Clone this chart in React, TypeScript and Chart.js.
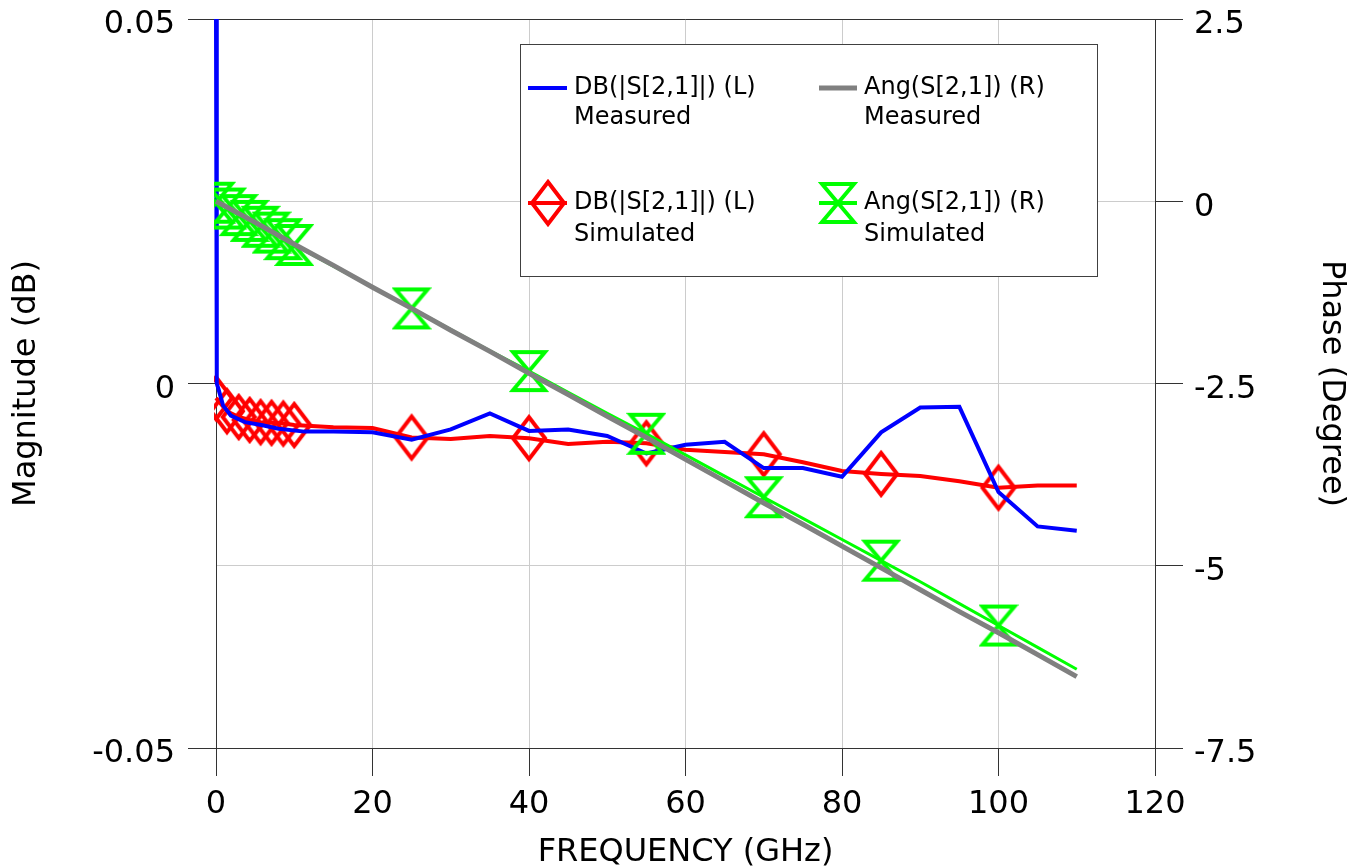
import React, { useEffect, useRef } from 'react';
import { Chart, registerables } from 'chart.js';

Chart.register(...registerables);

const FONT = '"DejaVu Sans", Verdana, sans-serif';

// Measured magnitude (blue, left axis)
const MEAS_FREQ = [0, 0.1, 0.3, 0.9, 1.9, 3.7, 5.8, 8, 11.3, 15, 20, 25, 30, 35, 40, 45, 50, 55, 60, 65, 70, 75, 80, 85, 90, 95, 100, 105, 110];
const MEAS_DB = [0.05, 0.0, -0.0007, -0.003, -0.0044, -0.0053, -0.0057, -0.0062, -0.0066, -0.0066, -0.0067, -0.0077, -0.0063, -0.0041, -0.0065, -0.0063, -0.0072, -0.0096, -0.0084, -0.008, -0.0116, -0.0116, -0.0128, -0.0067, -0.0033, -0.0032, -0.0149, -0.0196, -0.0202];

// Measured phase (gray, right axis)
const MEAS_PHASE_FREQ = [0, 5, 10, 15, 20, 25, 30, 35, 40, 45, 50, 55, 60, 65, 70, 75, 80, 85, 90, 95, 100, 105, 110];
const MEAS_PHASE = [0.0, -0.29, -0.59, -0.88, -1.18, -1.47, -1.77, -2.06, -2.36, -2.65, -2.95, -3.24, -3.54, -3.84, -4.14, -4.43, -4.73, -5.03, -5.33, -5.63, -5.92, -6.22, -6.52];

// Simulated (red magnitude on left axis, green phase on right axis)
const SIM_FREQ = [0, 1.4, 2.9, 4.3, 5.7, 7.1, 8.6, 10, 15, 20, 25, 30, 35, 40, 45, 50, 55, 60, 65, 70, 75, 80, 85, 90, 95, 100, 105, 110];
const SIM_DB = [-0.002, -0.0038, -0.0046, -0.005, -0.0053, -0.0054, -0.0055, -0.0057, -0.006, -0.0061, -0.0074, -0.0076, -0.0072, -0.0075, -0.0083, -0.008, -0.0082, -0.0091, -0.0094, -0.0097, -0.0108, -0.012, -0.0124, -0.0127, -0.0134, -0.0143, -0.014, -0.014];
const SIM_PHASE = [-0.02, -0.1, -0.19, -0.27, -0.35, -0.43, -0.52, -0.6, -0.89, -1.18, -1.47, -1.76, -2.05, -2.33, -2.62, -2.91, -3.19, -3.48, -3.77, -4.06, -4.35, -4.64, -4.93, -5.22, -5.52, -5.82, -6.12, -6.42];
const SIM_MARKER = [1, 1, 1, 1, 1, 1, 1, 1, 0, 0, 1, 0, 0, 1, 0, 0, 1, 0, 0, 1, 0, 0, 1, 0, 0, 1, 0, 0];

const X_TITLE = 'FREQUENCY (GHz)';
const Y_TITLE = 'Magnitude (dB)';
const Y1_TITLE = 'Phase (Degree)';
const LEGEND_NAMES = ['DB(|S[2,1]|) (L)', 'Ang(S[2,1]) (R)'];
const LEGEND_SOURCES = ['Measured', 'Simulated'];

const BLUE = '#0000ff';
const RED = '#ff0000';
const GREEN = '#00ff00';
const GRAY = '#808080';

function makeDiamond(color: string) {
  const c = document.createElement('canvas');
  c.width = 44;
  c.height = 52;
  const g = c.getContext('2d')!;
  g.strokeStyle = color;
  g.lineWidth = 4;
  g.lineJoin = 'miter';
  g.beginPath();
  g.moveTo(22, 5);
  g.lineTo(38, 26);
  g.lineTo(22, 47);
  g.lineTo(6, 26);
  g.closePath();
  g.stroke();
  return c;
}

function makeHourglass(color: string) {
  const c = document.createElement('canvas');
  c.width = 40;
  c.height = 48;
  const g = c.getContext('2d')!;
  g.strokeStyle = color;
  g.lineWidth = 4;
  g.lineJoin = 'miter';
  g.beginPath();
  g.moveTo(4, 5);
  g.lineTo(36, 5);
  g.lineTo(4, 43);
  g.lineTo(36, 43);
  g.closePath();
  g.stroke();
  return c;
}

export default function App() {
  const ref = useRef<HTMLCanvasElement>(null);

  useEffect(() => {
    const canvas = ref.current!;
    const diamond = makeDiamond(RED);
    const hourglass = makeHourglass(GREEN);

    const legendPlugin = {
      id: 'boxLegend',
      afterDraw(chart: any) {
        const ctx = chart.ctx as CanvasRenderingContext2D;
        ctx.save();
        ctx.fillStyle = '#ffffff';
        ctx.fillRect(520, 44, 577, 232);
        ctx.strokeStyle = '#404040';
        ctx.lineWidth = 1;
        ctx.strokeRect(520.5, 44.5, 577, 232);

        const cols = [{ sx0: 528, sx1: 567, tx: 574 }, { sx0: 819, sx1: 857, tx: 864 }];
        const rows = [{ y: 88, y2: 118 }, { y: 203, y2: 235 }];
        ctx.lineCap = 'butt';
        ctx.strokeStyle = BLUE;
        ctx.lineWidth = 4;
        ctx.beginPath();
        ctx.moveTo(cols[0].sx0, rows[0].y);
        ctx.lineTo(cols[0].sx1, rows[0].y);
        ctx.stroke();
        ctx.strokeStyle = GRAY;
        ctx.lineWidth = 5;
        ctx.beginPath();
        ctx.moveTo(cols[1].sx0, rows[0].y);
        ctx.lineTo(cols[1].sx1, rows[0].y);
        ctx.stroke();
        ctx.strokeStyle = RED;
        ctx.lineWidth = 4;
        ctx.beginPath();
        ctx.moveTo(cols[0].sx0, rows[1].y);
        ctx.lineTo(cols[0].sx1, rows[1].y);
        ctx.stroke();
        const cx0 = (cols[0].sx0 + cols[0].sx1) / 2;
        ctx.drawImage(diamond, Math.round(cx0 - diamond.width / 2), Math.round(rows[1].y - diamond.height / 2));
        ctx.strokeStyle = GREEN;
        ctx.lineWidth = 4;
        ctx.beginPath();
        ctx.moveTo(cols[1].sx0, rows[1].y);
        ctx.lineTo(cols[1].sx1, rows[1].y);
        ctx.stroke();
        const cx1 = (cols[1].sx0 + cols[1].sx1) / 2;
        ctx.drawImage(hourglass, Math.round(cx1 - hourglass.width / 2), Math.round(rows[1].y - hourglass.height / 2));

        ctx.fillStyle = '#000000';
        ctx.font = `24px ${FONT}`;
        ctx.textBaseline = 'middle';
        ctx.textAlign = 'left';
        for (let r = 0; r < 2; r++) {
          for (let c = 0; c < 2; c++) {
            ctx.fillText(LEGEND_NAMES[c], cols[c].tx, rows[r].y);
            ctx.fillText(LEGEND_SOURCES[r], cols[c].tx, rows[r].y2);
          }
        }
        ctx.restore();
      },
    };

    const tickFont = { family: FONT, size: 32, lineHeight: 1 };
    const dark = '#333333';
    const light = '#cccccc';

    const chart = new Chart(canvas, {
      type: 'line',
      data: {
        datasets: [
          {
            label: 'Ang(S[2,1]) (R) Measured',
            data: MEAS_PHASE_FREQ.map((f, i) => ({ x: f, y: MEAS_PHASE[i] })),
            yAxisID: 'y1',
            borderColor: GRAY,
            borderWidth: 5,
            pointRadius: 0,
            tension: 0,
            fill: false,
            clip: 2,
          },
          {
            label: 'Ang(S[2,1]) (R) Simulated',
            data: SIM_FREQ.map((f, i) => ({ x: f, y: SIM_PHASE[i] })),
            yAxisID: 'y1',
            borderColor: GREEN,
            borderWidth: 3,
            pointStyle: hourglass as any,
            pointRadius: SIM_MARKER.map((m) => (m ? 10 : 0)),
            pointHoverRadius: 0,
            tension: 0,
            fill: false,
            clip: 2,
          },
          {
            label: 'DB(|S[2,1]|) (L) Measured',
            data: MEAS_FREQ.map((f, i) => ({ x: f, y: MEAS_DB[i] })),
            yAxisID: 'y',
            borderColor: BLUE,
            borderWidth: 4,
            pointRadius: 0,
            tension: 0,
            fill: false,
            clip: 2,
          },
          {
            label: 'DB(|S[2,1]|) (L) Simulated',
            data: SIM_FREQ.map((f, i) => ({ x: f, y: SIM_DB[i] })),
            yAxisID: 'y',
            borderColor: RED,
            borderWidth: 4,
            pointStyle: diamond as any,
            pointRadius: SIM_MARKER.map((m) => (m ? 10 : 0)),
            pointHoverRadius: 0,
            tension: 0,
            fill: false,
            clip: 2,
          },
        ],
      },
      options: {
        responsive: false,
        animation: false,
        events: [],
        layout: { padding: { top: 19, left: 0, right: 0, bottom: 0 } },
        plugins: { legend: { display: false }, tooltip: { enabled: false } },
        scales: {
          x: {
            type: 'linear',
            position: 'bottom',
            min: 0,
            max: 120,
            ticks: { stepSize: 20, color: '#000', font: tickFont, padding: 13, maxRotation: 0 },
            grid: { color: light, tickColor: dark, tickLength: 28, lineWidth: 1 },
            border: { color: dark, width: 1 },
            title: { display: true, text: X_TITLE, color: '#000', font: tickFont, padding: { top: 0, bottom: -1 } },
            afterFit: (s: any) => {
              s.height = 120;
              s.paddingLeft = 0;
              s.paddingRight = 0;
            },
          },
          y: {
            type: 'linear',
            position: 'left',
            min: -0.05,
            max: 0.05,
            ticks: {
              stepSize: 0.05,
              color: '#000',
              font: tickFont,
              padding: 13,
              labelOffset: 6,
              callback: (v: any) => (Math.abs(Number(v)) < 1e-9 ? '0' : Number(v).toFixed(2)),
            },
            grid: { drawOnChartArea: false, tickColor: dark, tickLength: 28 },
            border: { color: dark, width: 1 },
            title: { display: true, text: Y_TITLE, color: '#000', font: tickFont, padding: { top: 11, bottom: 0 } },
            afterFit: (s: any) => {
              s.width = 216;
              s.paddingTop = 0;
              s.paddingBottom = 0;
            },
          },
          y1: {
            type: 'linear',
            position: 'right',
            min: -7.5,
            max: 2.5,
            ticks: {
              stepSize: 2.5,
              color: '#000',
              font: tickFont,
              padding: 11,
              labelOffset: 6,
              callback: (v: any) => String(Math.round(Number(v) * 10) / 10 + 0),
            },
            grid: {
              color: (c: any) => (c.tick && Math.abs(c.tick.value - 2.5) < 1e-6 ? dark : light),
              tickColor: dark,
              tickLength: 28,
              lineWidth: 1,
            },
            border: { color: dark, width: 1 },
            title: { display: true, text: Y1_TITLE, color: '#000', font: tickFont, padding: { top: 7, bottom: 0 } },
            afterFit: (s: any) => {
              s.width = 199;
              s.paddingTop = 0;
              s.paddingBottom = 0;
            },
          },
        },
      },
      plugins: [legendPlugin],
    } as any);

    return () => chart.destroy();
  }, []);

  return (
    <div style={{ position: 'absolute', left: 0, top: 0, width: 1354, height: 868, background: '#ffffff' }}>
      <canvas ref={ref} width={1354} height={868} style={{ display: 'block', width: 1354, height: 868 }} />
    </div>
  );
}
